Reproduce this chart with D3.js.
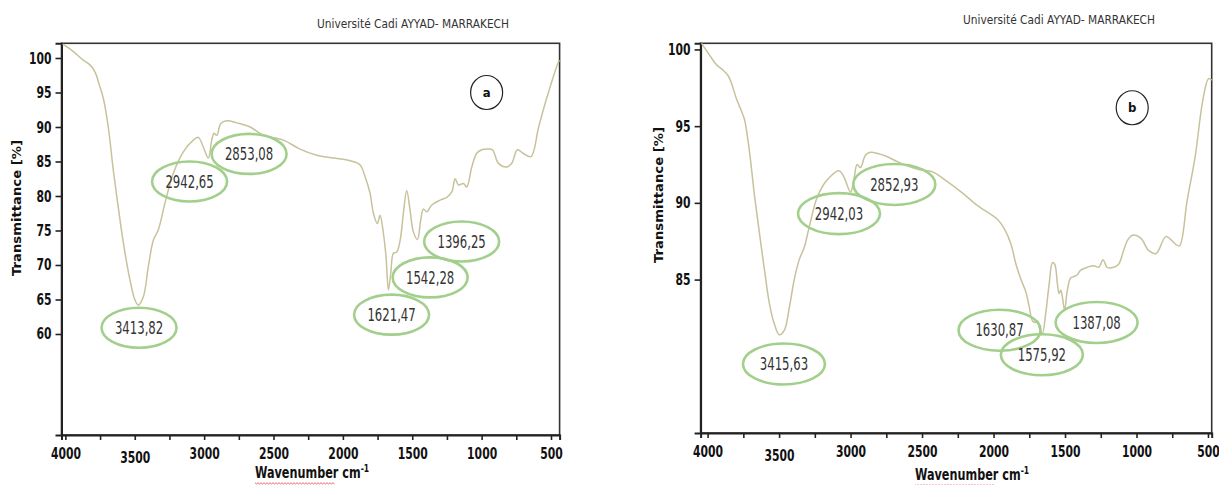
<!DOCTYPE html>
<html>
<head>
<meta charset="utf-8">
<script src="https://cdn.jsdelivr.net/npm/d3@7"></script>
<style>
  body { margin: 0; background: #fff; }
  svg { display: block; }
  .tick text { font-family: "DejaVu Sans Condensed", "DejaVu Sans", sans-serif; font-stretch: condensed; font-weight: bold; font-size: 12px; fill: #111; }
  .tick line { stroke: #222; stroke-width: 1.6px; }
  .domain { stroke: #222; stroke-width: 2px; }
</style>
</head>
<body>
<svg width="1219" height="485"></svg>
<script>
// spectrum a (wavenumber cm-1, transmittance %)
const waveA = [4020, 3960, 3871, 3823, 3787, 3751, 3727, 3691, 3655, 3619, 3582, 3534, 3498, 3474, 3438, 3402, 3366, 3330, 3282, 3222,
  3150, 3078, 3042, 3006, 2970, 2945, 2929, 2909, 2880, 2837, 2765, 2669, 2573, 2429, 2309, 2188, 2068, 1948, 1876, 1840,
  1804, 1780, 1751, 1732, 1708, 1689, 1672, 1655, 1636, 1611, 1587, 1564, 1540, 1516, 1492, 1463, 1439, 1420, 1395, 1359,
  1299, 1251, 1215, 1191, 1167, 1131, 1107, 1071, 1035, 999, 960, 922, 881, 825, 784, 742, 701, 645, 589, 535, 451, 440];
const transA = [102.0, 101.2, 99.7, 99.0, 98.0, 95.8, 94.2, 90.0, 83.8, 78.4, 73.2, 67.8, 64.9, 64.2, 65.4, 69.8, 73.6, 75.1, 79.0, 83.3,
  86.4, 88.1, 88.5, 87.1, 85.5, 88.1, 89.1, 88.8, 90.5, 90.9, 90.6, 90.0, 88.8, 88.1, 86.8, 85.9, 85.5, 85.1, 84.5, 82.8,
  80.4, 77.5, 76.0, 77.2, 74.6, 71.2, 66.4, 68.8, 71.7, 71.9, 73.6, 77.5, 80.8, 78.0, 74.8, 73.7, 76.5, 78.1, 77.7, 78.7,
  79.4, 79.8, 80.6, 82.5, 81.6, 81.8, 81.3, 84.2, 86.2, 86.7, 86.8, 86.7, 84.8, 84.2, 84.7, 86.7, 86.2, 85.7, 90.0, 93.9, 99.2, 99.7];

// spectrum b
const waveB = [4042, 3984, 3938, 3892, 3857, 3833, 3799, 3764, 3741, 3718, 3694, 3671, 3637, 3602, 3567, 3533, 3498, 3463, 3428, 3394,
  3359, 3324, 3290, 3232, 3163, 3081, 3047, 3000, 2977, 2954, 2931, 2896, 2861, 2769, 2653, 2537, 2422, 2340, 2225, 2109,
  1970, 1924, 1878, 1843, 1808, 1774, 1750, 1727, 1704, 1692, 1674, 1658, 1635, 1611, 1588, 1572, 1553, 1542, 1530, 1519,
  1503, 1484, 1461, 1438, 1415, 1392, 1345, 1299, 1264, 1234, 1206, 1160, 1125, 1090, 1060, 1024, 970, 915, 862, 794,
  726, 699, 645, 590, 536, 496, 474];
const transB = [100.4, 99.6, 99.0, 98.65, 98.3, 97.8, 96.8, 96.0, 95.4, 94.1, 92.3, 90.4, 88.0, 85.6, 83.4, 82.1, 81.4, 81.7, 83.2, 85.0,
  86.3, 87.1, 88.4, 90.4, 91.5, 92.1, 91.7, 90.7, 91.5, 92.5, 92.3, 93.1, 93.3, 93.1, 92.6, 92.2, 92.0, 91.5, 90.7, 89.8,
  88.9, 88.3, 87.3, 86.0, 85.0, 84.2, 83.2, 82.3, 82.2, 82.3, 81.7, 81.5, 82.8, 84.7, 86.1, 86.0, 84.7, 84.1, 84.3, 83.9,
  83.0, 84.3, 85.1, 85.2, 85.3, 85.6, 85.8, 85.9, 85.8, 86.3, 85.8, 85.8, 86.0, 86.9, 87.6, 87.9, 87.7, 86.9, 86.7, 87.8,
  87.3, 87.2, 90.2, 93.0, 96.7, 98.1, 98.0];

// peak labels and where their ellipses sit (in data units)
const peakLabelsA = ["3413,82", "2942,65", "2853,08", "1621,47", "1542,28", "1396,25"];
const peakWaveA = [3469, 3105, 2676, 1649, 1371, 1144];
const peakTransA = [60.9, 82.1, 86.1, 62.8, 68.2, 73.4];

const peakLabelsB = ["3415,63", "2942,03", "2852,93", "1630,87", "1575,92", "1387,08"];
const peakWaveB = [3466, 3081, 2694, 1958, 1662, 1279];
const peakTransB = [79.5, 89.3, 91.2, 81.7, 80.1, 82.2];

const xTickValues = [4000, 3750, 3500, 3250, 3000, 2750, 2500, 2250, 2000, 1750, 1500, 1250, 1000, 750, 500];
const xTickLabels = [4000, 3500, 3000, 2500, 2000, 1500, 1000, 500];
const yTicksA = [60, 65, 70, 75, 80, 85, 90, 95, 100];
const yTicksB = [85, 90, 95, 100];

const panels = [
  { wave: waveA, trans: transA, labels: peakLabelsA, pw: peakWaveA, pt: peakTransA, yTicks: yTicksA,
    xDomain: [4028, 438], yDomain: [45.36, 102.13], left: 61.5, right: 559.6, top: 43.3, bottom: 435,
    tag: "a", tagW: 964, tagT: 95.0, rx: 37.5, ry: 20,
    title: [317, 23], ylab: [17, 208], xlab: [255, 478] },
  { wave: waveB, trans: transB, labels: peakLabelsB, pw: peakWaveB, pt: peakTransB, yTicks: yTicksB,
    xDomain: [4049, 474], yDomain: [75.0, 100.4], left: 700.6, right: 1211.7, top: 43.3, bottom: 433,
    tag: "b", tagW: 1030, tagT: 96.2, rx: 41, ry: 20.5,
    title: [963, 19], ylab: [659, 195], xlab: [915, 480] }
];

const svg = d3.select("svg");
const narrow = '"DejaVu Sans Condensed", "DejaVu Sans", sans-serif';
const stretch = 1.3;

// make the condensed glyphs taller, like the source figure
function tallText(sel, s) {
  sel.each(function () {
    const t = d3.select(this);
    const yy = +t.attr("y") || 0;
    t.attr("transform", `scale(1,${s})`).attr("y", yy / s);
  });
}

panels.forEach(p => {
  const x = d3.scaleLinear().domain(p.xDomain).range([p.left, p.right]);
  const y = d3.scaleLinear().domain(p.yDomain).range([p.bottom, p.top]);
  const g = svg.append("g");

  // frame
  g.append("rect")
    .attr("x", p.left).attr("y", p.top)
    .attr("width", p.right - p.left).attr("height", p.bottom - p.top)
    .attr("fill", "none")
    .attr("stroke", "#333")
    .attr("stroke-width", 1.6);

  // x axis
  const xa = g.append("g")
    .attr("transform", `translate(0,${p.bottom})`)
    .call(d3.axisBottom(x)
      .tickValues(xTickValues)
      .tickSize(5)
      .tickPadding(8)
      .tickFormat(d => xTickLabels.includes(d) ? d : ""));
  xa.selectAll(".tick text").filter(d => d === 3500).attr("dy", "0.95em");
  tallText(xa.selectAll(".tick text"), stretch);

  // y axis
  const ya = g.append("g")
    .attr("transform", `translate(${p.left},0)`)
    .call(d3.axisLeft(y).tickValues(p.yTicks).tickSize(6).tickPadding(4));
  tallText(ya.selectAll(".tick text"), stretch);

  // spectrum
  const pts = p.wave.map((w, i) => [w, p.trans[i]]);
  g.append("path")
    .datum(pts)
    .attr("fill", "none")
    .attr("stroke", "#c7c29c")
    .attr("stroke-width", 1.5)
    .attr("d", d3.line()
      .x(d => x(d[0]))
      .y(d => y(d[1]))
      .curve(d3.curveCatmullRom.alpha(0.5)));

  // peak ellipses
  const peaks = g.selectAll(".peak")
    .data(p.labels.map((l, i) => ({ label: l, w: p.pw[i], t: p.pt[i] })))
    .enter().append("g")
    .attr("class", "peak")
    .attr("transform", d => `translate(${x(d.w)},${y(d.t)})`);
  peaks.append("ellipse")
    .attr("rx", p.rx).attr("ry", p.ry)
    .attr("fill", "none")
    .attr("stroke", "#a3cf8c")
    .attr("stroke-width", 2.6);
  peaks.append("text")
    .attr("text-anchor", "middle")
    .attr("dy", "0.36em")
    .attr("transform", "scale(1,1.3)")
    .attr("font-family", narrow)
    .attr("font-size", 13)
    .attr("fill", "#333")
    .text(d => d.label);

  // panel tag
  g.append("ellipse")
    .attr("cx", x(p.tagW)).attr("cy", y(p.tagT))
    .attr("rx", 16).attr("ry", 17)
    .attr("fill", "none").attr("stroke", "#222").attr("stroke-width", 1.2);
  g.append("text")
    .attr("x", x(p.tagW)).attr("y", y(p.tagT))
    .attr("dy", "0.35em")
    .attr("text-anchor", "middle")
    .attr("font-family", narrow)
    .attr("font-weight", "bold")
    .attr("font-size", 13)
    .attr("fill", "#111")
    .text(p.tag);

  // header
  g.append("text")
    .attr("x", p.title[0]).attr("y", p.title[1])
    .attr("dy", "0.35em")
    .attr("font-family", narrow)
    .attr("font-size", 13)
    .attr("fill", "#333")
    .attr("textLength", 192)
    .attr("lengthAdjust", "spacingAndGlyphs")
    .text("Université Cadi AYYAD- MARRAKECH");

  // y label
  g.append("text")
    .attr("transform", `translate(${p.ylab[0]},${p.ylab[1]}) rotate(-90)`)
    .attr("text-anchor", "middle")
    .attr("dy", "0.35em")
    .attr("font-family", "DejaVu Sans, sans-serif")
    .attr("font-weight", "bold")
    .attr("font-size", 12)
    .attr("fill", "#111")
    .attr("textLength", 136)
    .attr("lengthAdjust", "spacingAndGlyphs")
    .text("Transmittance [%]");

  // x label
  const xl = g.append("text")
    .attr("transform", `translate(${p.xlab[0]},${p.xlab[1]}) scale(1,1.2)`)
    .attr("font-family", narrow)
    .attr("font-weight", "bold")
    .attr("font-size", 12.5)
    .attr("fill", "#111");
  xl.append("tspan").text("Wavenumber cm");
  xl.append("tspan").attr("font-size", 8.5).attr("dy", -5).text("-1");

  // spell-check squiggle under "Wavenumber"
  const x0 = p.xlab[0], x1 = p.xlab[0] + 80, yq = p.xlab[1] + 5;
  const zig = d3.range(x0, x1, 1.5).map((v, i) => [v, yq + (i % 2 ? 1 : -0.3)]);
  g.append("path")
    .attr("d", d3.line()(zig))
    .attr("fill", "none")
    .attr("stroke", "#d44")
    .attr("stroke-width", 0.8);
});
</script>
</body>
</html>
